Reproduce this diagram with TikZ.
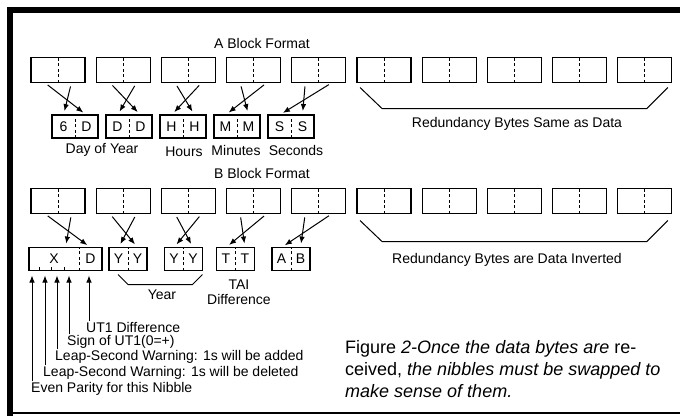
\documentclass[tikz,border=0pt]{standalone}
\usepackage{fontspec}
\setmainfont{Liberation Sans}
\usetikzlibrary{arrows.meta,positioning,calc}

\newcommand{\nibs}[3]{\makebox[#1]{#2}\makebox[#1]{#3}}

\begin{document}
\begin{tikzpicture}[x=1pt,y=-1pt,
      nibdash/.style={line width=1pt,dash pattern=on 3pt off 2.5pt},
      split at/.style={path picture={\draw[nibdash]
        ($(path picture bounding box.south west)!#1!(path picture bounding box.south east)$) --
        ($(path picture bounding box.north west)!#1!(path picture bounding box.north east)$);}},
      byte/.style={draw,line width=1.2pt,minimum width=54pt,minimum height=25pt,inner sep=0pt,
        outer sep=0pt,split at=0.5},
      small/.style={draw,line width=1.2pt,minimum height=23pt,inner sep=0pt,outer sep=0pt,
        font=\fontsize{14}{16}\selectfont,split at=0.5},
      lbl/.style={inner sep=1pt,font=\fontsize{14}{15}\selectfont},
      arr/.style={-{Latex[length=7pt,width=5.5pt]},line width=1pt,shorten <=4pt,shorten >=4pt},
      uparr/.style={-{Latex[length=7pt,width=5.5pt]},line width=1pt,shorten >=5pt}]
    \useasboundingbox (0,0) rectangle (680,416);
    % frame
    \fill (7,7) rectangle (680,13);
    \fill (7,7) rectangle (13,416);
    \draw[line width=1.5pt] (13,413) -- (680,413);

    % A block
    \node[lbl] (atitle) at (262,43) {A Block Format};
    \node[byte] (a1) at (58,70) {};
    \node[byte,right=11.2pt of a1] (a2) {};
    \node[byte,right=11.2pt of a2] (a3) {};
    \node[byte,right=11.2pt of a3] (a4) {};
    \node[byte,right=11.2pt of a4] (a5) {};
    \node[byte,right=11.2pt of a5] (a6) {};
    \node[byte,right=11.2pt of a6] (a7) {};
    \node[byte,right=11.2pt of a7] (a8) {};
    \node[byte,right=11.2pt of a8] (a9) {};
    \node[byte,right=11.2pt of a9] (a10) {};

    \node[small] (doy1) at (75,126.5) {\nibs{23pt}{6}{D}};
    \node[small,right=8pt of doy1] (doy2) {\nibs{23pt}{D}{D}};
    \node[small,right=8pt of doy2] (hrs) {\nibs{23pt}{H}{H}};
    \node[small,right=8pt of hrs] (mins) {\nibs{23pt}{M}{M}};
    \node[small,right=8pt of mins] (secs) {\nibs{23pt}{S}{S}};

    \draw[arr] ([xshift=-13.5pt]a1.south) -- ([xshift=11.5pt]doy1.north);
    \draw[arr] ([xshift=13.5pt]a1.south) -- ([xshift=-11.5pt]doy1.north);
    \draw[arr] ([xshift=-13.5pt]a2.south) -- ([xshift=11.5pt]doy2.north);
    \draw[arr] ([xshift=13.5pt]a2.south) -- ([xshift=-11.5pt]doy2.north);
    \draw[arr] ([xshift=-13.5pt]a3.south) -- ([xshift=11.5pt]hrs.north);
    \draw[arr] ([xshift=13.5pt]a3.south) -- ([xshift=-11.5pt]hrs.north);
    \draw[arr] ([xshift=-13.5pt]a4.south) -- ([xshift=11.5pt]mins.north);
    \draw[arr] ([xshift=13.5pt]a4.south) -- ([xshift=-11.5pt]mins.north);
    \draw[arr] ([xshift=-13.5pt]a5.south) -- ([xshift=11.5pt]secs.north);
    \draw[arr] ([xshift=13.5pt]a5.south) -- ([xshift=-11.5pt]secs.north);

    \node[lbl] (doylbl) at (102,150) {Day of Year};
    \node[lbl] (hrslbl) at (184,152) {Hours};
    \node[lbl] (minlbl) at (236,150) {Minutes};
    \node[lbl] (seclbl) at (296,150) {Seconds};

    \draw[line width=1pt] ([shift={(3,5)}]a6.south west) -- ([shift={(25,26)}]a6.south west)
      -- ([shift={(-25,26)}]a10.south east) -- ([shift={(-4,5)}]a10.south east);
    \node[lbl] (aredun) at (517,124) {Redundancy Bytes Same as Data};

    % B block
    \node[lbl] (btitle) at (262,173) {B Block Format};
    \node[byte] (b1) at (58,201) {};
    \node[byte,right=11.2pt of b1] (b2) {};
    \node[byte,right=11.2pt of b2] (b3) {};
    \node[byte,right=11.2pt of b3] (b4) {};
    \node[byte,right=11.2pt of b4] (b5) {};
    \node[byte,right=11.2pt of b5] (b6) {};
    \node[byte,right=11.2pt of b6] (b7) {};
    \node[byte,right=11.2pt of b7] (b8) {};
    \node[byte,right=11.2pt of b8] (b9) {};
    \node[byte,right=11.2pt of b9] (b10) {};

    \node[small,split at=0.685] (xd) at (65.5,259) {\makebox[50pt]{X}\makebox[23pt]{D}};
    \node[small] (yr1) at (128,259) {\nibs{19pt}{Y}{Y}};
    \node[small] (yr2) at (183.5,259) {\nibs{19pt}{Y}{Y}};
    \node[small] (tai) at (235.5,259) {\nibs{19pt}{T}{T}};
    \node[small] (ab) at (291,259) {\nibs{19pt}{A}{B}};
    \foreach \t in {10,22.5,35}
      \draw[line width=1pt] ([xshift=\t pt]xd.south west) -- ++(0,-4);

    \draw[arr] ([xshift=-13.5pt]b1.south) -- ([xshift=25pt]xd.north);
    \draw[arr] ([xshift=13.5pt]b1.south) -- (xd.north);
    \draw[arr] ([xshift=-13.5pt]b2.south) -- ([xshift=9.5pt]yr1.north);
    \draw[arr] ([xshift=13.5pt]b2.south) -- ([xshift=-9.5pt]yr1.north);
    \draw[arr] ([xshift=-13.5pt]b3.south) -- ([xshift=9.5pt]yr2.north);
    \draw[arr] ([xshift=13.5pt]b3.south) -- ([xshift=-9.5pt]yr2.north);
    \draw[arr] ([xshift=-13.5pt]b4.south) -- ([xshift=9.5pt]tai.north);
    \draw[arr] ([xshift=13.5pt]b4.south) -- ([xshift=-9.5pt]tai.north);
    \draw[arr] ([xshift=-13.5pt]b5.south) -- ([xshift=9.5pt]ab.north);
    \draw[arr] ([xshift=13.5pt]b5.south) -- ([xshift=-9.5pt]ab.north);

    \draw[line width=1pt] ([shift={(9,4)}]yr1.south west) -- ([shift={(19,14)}]yr1.south west)
      -- ([shift={(-10,14)}]yr2.south east) -- ([shift={(0,4)}]yr2.south east);
    \node[lbl] (yearlbl) at (162,295) {Year};
    \node[lbl,align=center] (tailbl) at (239,292) {TAI\\Difference};

    \draw[line width=1pt] ([shift={(3,7)}]b6.south west) -- ([shift={(25,28)}]b6.south west)
      -- ([shift={(-25,28)}]b10.south east) -- ([shift={(-4,7)}]b10.south east);
    \node[lbl] (bredun) at (507,260) {Redundancy Bytes are Data Inverted};

    % bits of the first nibble
    \coordinate (bit1) at ([xshift=3pt]xd.south west);
    \coordinate (bit2) at ([xshift=16pt]xd.south west);
    \coordinate (bit3) at ([xshift=28pt]xd.south west);
    \coordinate (bit4) at ([xshift=40pt]xd.south west);
    \coordinate (bit5) at ([xshift=-13pt]xd.south east);
    \node[lbl,anchor=west] (ut) at (85,327) {UT1 Difference};
    \node[lbl,anchor=west] (sg) at (66,342) {Sign of UT1(0=+)};
    \node[lbl,anchor=west] (la) at (54,357) {Leap-Second Warning: 1s will be added};
    \node[lbl,anchor=west] (ld) at (42,373) {Leap-Second Warning: 1s will be deleted};
    \node[lbl,anchor=west] (ev) at (30,389) {Even Parity for this Nibble};
    \draw[uparr] (bit5 |- ut.north) -- (bit5);
    \draw[uparr] (bit4 |- sg.north) -- (bit4);
    \draw[uparr] (bit3 |- la.north) -- (bit3);
    \draw[uparr] (bit2 |- ld.north) -- (bit2);
    \draw[uparr] (bit1 |- ev.north) -- (bit1);

    % caption
    \node[anchor=north west,inner sep=0pt,align=left,font=\fontsize{18}{22}\selectfont\itshape]
      (cap) at (345,340) {{\upshape Figure} 2-Once the data bytes are {\upshape re-}\\
      {\upshape ceived,} the nibbles must be swapped to\\make sense of them.};
  \end{tikzpicture}
\end{document}
